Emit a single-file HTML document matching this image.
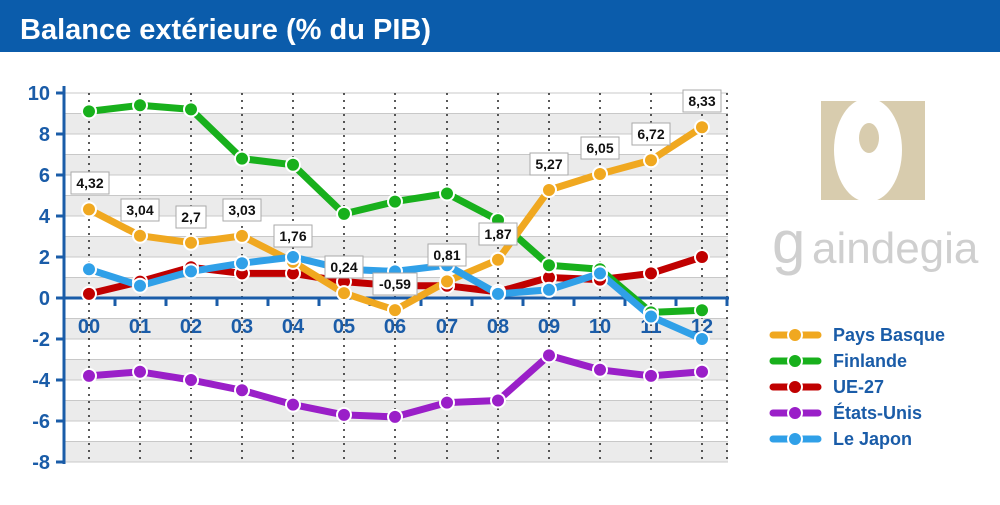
<!DOCTYPE html><html><head><meta charset="utf-8"><style>body{margin:0;width:1000px;height:500px;overflow:hidden;background:#fff;font-family:"Liberation Sans",sans-serif}</style></head><body>
<svg width="1000" height="500" xmlns="http://www.w3.org/2000/svg" font-family="Liberation Sans, sans-serif">
<rect x="0" y="0" width="1000" height="52" fill="#0b5cab"/>
<text x="20" y="39" fill="#fff" font-size="29" font-weight="bold">Balance extérieure (% du PIB)</text>
<g id="bands">
<rect x="64" y="113" width="664" height="20.5" fill="#ebebeb"/>
<rect x="64" y="154" width="664" height="20.5" fill="#ebebeb"/>
<rect x="64" y="195" width="664" height="20.5" fill="#ebebeb"/>
<rect x="64" y="236" width="664" height="20.5" fill="#ebebeb"/>
<rect x="64" y="277" width="664" height="20.5" fill="#ebebeb"/>
<rect x="64" y="318.5" width="664" height="20.5" fill="#ebebeb"/>
<rect x="64" y="359.5" width="664" height="20.5" fill="#ebebeb"/>
<rect x="64" y="400.5" width="664" height="20.5" fill="#ebebeb"/>
<rect x="64" y="441.5" width="664" height="20.5" fill="#ebebeb"/>
</g>
<g stroke="#c8c8c8" stroke-width="1">
<line x1="64" x2="728" y1="93" y2="93"/><line x1="64" x2="728" y1="113.5" y2="113.5"/><line x1="64" x2="728" y1="134" y2="134"/><line x1="64" x2="728" y1="154.5" y2="154.5"/><line x1="64" x2="728" y1="175" y2="175"/><line x1="64" x2="728" y1="195.5" y2="195.5"/><line x1="64" x2="728" y1="216" y2="216"/><line x1="64" x2="728" y1="236.5" y2="236.5"/><line x1="64" x2="728" y1="257" y2="257"/><line x1="64" x2="728" y1="277.5" y2="277.5"/><line x1="64" x2="728" y1="318.5" y2="318.5"/><line x1="64" x2="728" y1="339" y2="339"/><line x1="64" x2="728" y1="359.5" y2="359.5"/><line x1="64" x2="728" y1="380" y2="380"/><line x1="64" x2="728" y1="400.5" y2="400.5"/><line x1="64" x2="728" y1="421" y2="421"/><line x1="64" x2="728" y1="441.5" y2="441.5"/><line x1="64" x2="728" y1="462" y2="462"/>
</g>
<g stroke="#222" stroke-width="1.5" stroke-dasharray="2,5">
<line x1="89" x2="89" y1="93" y2="462"/><line x1="140" x2="140" y1="93" y2="462"/><line x1="191" x2="191" y1="93" y2="462"/><line x1="242" x2="242" y1="93" y2="462"/><line x1="293" x2="293" y1="93" y2="462"/><line x1="344" x2="344" y1="93" y2="462"/><line x1="395" x2="395" y1="93" y2="462"/><line x1="447" x2="447" y1="93" y2="462"/><line x1="498" x2="498" y1="93" y2="462"/><line x1="549" x2="549" y1="93" y2="462"/><line x1="600" x2="600" y1="93" y2="462"/><line x1="651" x2="651" y1="93" y2="462"/><line x1="702" x2="702" y1="93" y2="462"/><line x1="727" x2="727" y1="93" y2="462"/>
</g>
<g stroke="#1a5ca8" stroke-width="3">
<line x1="64" x2="64" y1="86" y2="464"/><line x1="62" x2="729" y1="298" y2="298"/>
<line x1="56" x2="64" y1="93" y2="93"/><line x1="56" x2="64" y1="134" y2="134"/><line x1="56" x2="64" y1="175" y2="175"/><line x1="56" x2="64" y1="216" y2="216"/><line x1="56" x2="64" y1="257" y2="257"/><line x1="56" x2="64" y1="298" y2="298"/><line x1="56" x2="64" y1="339" y2="339"/><line x1="56" x2="64" y1="380" y2="380"/><line x1="56" x2="64" y1="421" y2="421"/><line x1="56" x2="64" y1="462" y2="462"/>
<line x1="115" x2="115" y1="298" y2="306"/><line x1="166" x2="166" y1="298" y2="306"/><line x1="217" x2="217" y1="298" y2="306"/><line x1="268" x2="268" y1="298" y2="306"/><line x1="319" x2="319" y1="298" y2="306"/><line x1="370" x2="370" y1="298" y2="306"/><line x1="421" x2="421" y1="298" y2="306"/><line x1="472" x2="472" y1="298" y2="306"/><line x1="523" x2="523" y1="298" y2="306"/><line x1="574" x2="574" y1="298" y2="306"/><line x1="625" x2="625" y1="298" y2="306"/><line x1="676" x2="676" y1="298" y2="306"/><line x1="727" x2="727" y1="298" y2="306"/>
</g>
<g fill="#1a5ca8" font-size="20" font-weight="bold" text-anchor="end">
<text x="50" y="100">10</text><text x="50" y="141">8</text><text x="50" y="182">6</text><text x="50" y="223">4</text><text x="50" y="264">2</text><text x="50" y="305">0</text><text x="50" y="346">-2</text><text x="50" y="387">-4</text><text x="50" y="428">-6</text><text x="50" y="469">-8</text>
</g>
<g fill="#1a5ca8" font-size="20" font-weight="bold" text-anchor="middle">
<text x="89" y="333">00</text><text x="140" y="333">01</text><text x="191" y="333">02</text><text x="242" y="333">03</text><text x="293" y="333">04</text><text x="344" y="333">05</text><text x="395" y="333">06</text><text x="447" y="333">07</text><text x="498" y="333">08</text><text x="549" y="333">09</text><text x="600" y="333">10</text><text x="651" y="333">11</text><text x="702" y="333">12</text>
</g>
<g fill="none" stroke-width="7" stroke-linejoin="round" stroke-linecap="round">
<polyline stroke="#9a1fc8" points="89,375.9 140,371.8 191,380 242,390.3 293,404.6 344,414.9 395,416.9 447,402.6 498,400.5 549,355.4 600,369.8 651,375.9 702,371.8"/>
<polyline stroke="#c00000" points="89,293.9 140,281.6 191,267.3 242,273.4 293,273.4 344,281.6 395,285.7 447,285.7 498,291.9 549,277.5 600,279.6 651,273.4 702,257"/>
<polyline stroke="#18b01c" points="89,111.4 140,105.3 191,109.4 242,158.6 293,164.8 344,213.9 395,201.6 447,193.5 498,220.1 549,265.2 600,269.3 651,312.4 702,310.3"/>
<polyline stroke="#f0a820" points="89,209.4 140,235.7 191,242.7 242,235.9 293,261.9 344,293.1 395,310.1 447,281.4 498,259.7 549,190 600,174 651,160.2 702,127.2"/>
<polyline stroke="#30a0e8" points="89,269.3 140,285.7 191,271.4 242,263.2 293,257 344,269.3 395,271.4 447,265.2 498,293.9 549,289.8 600,273.4 651,316.5 702,339"/>
</g>
<g stroke="#fff" stroke-width="2">
<g fill="#9a1fc8"><circle cx="89" cy="375.9" r="7"/><circle cx="140" cy="371.8" r="7"/><circle cx="191" cy="380" r="7"/><circle cx="242" cy="390.3" r="7"/><circle cx="293" cy="404.6" r="7"/><circle cx="344" cy="414.9" r="7"/><circle cx="395" cy="416.9" r="7"/><circle cx="447" cy="402.6" r="7"/><circle cx="498" cy="400.5" r="7"/><circle cx="549" cy="355.4" r="7"/><circle cx="600" cy="369.8" r="7"/><circle cx="651" cy="375.9" r="7"/><circle cx="702" cy="371.8" r="7"/></g>
<g fill="#c00000"><circle cx="89" cy="293.9" r="7"/><circle cx="140" cy="281.6" r="7"/><circle cx="191" cy="267.3" r="7"/><circle cx="242" cy="273.4" r="7"/><circle cx="293" cy="273.4" r="7"/><circle cx="344" cy="281.6" r="7"/><circle cx="395" cy="285.7" r="7"/><circle cx="447" cy="285.7" r="7"/><circle cx="498" cy="291.9" r="7"/><circle cx="549" cy="277.5" r="7"/><circle cx="600" cy="279.6" r="7"/><circle cx="651" cy="273.4" r="7"/><circle cx="702" cy="257" r="7"/></g>
<g fill="#18b01c"><circle cx="89" cy="111.4" r="7"/><circle cx="140" cy="105.3" r="7"/><circle cx="191" cy="109.4" r="7"/><circle cx="242" cy="158.6" r="7"/><circle cx="293" cy="164.8" r="7"/><circle cx="344" cy="213.9" r="7"/><circle cx="395" cy="201.6" r="7"/><circle cx="447" cy="193.5" r="7"/><circle cx="498" cy="220.1" r="7"/><circle cx="549" cy="265.2" r="7"/><circle cx="600" cy="269.3" r="7"/><circle cx="651" cy="312.4" r="7"/><circle cx="702" cy="310.3" r="7"/></g>
<g fill="#f0a820"><circle cx="89" cy="209.4" r="7"/><circle cx="140" cy="235.7" r="7"/><circle cx="191" cy="242.7" r="7"/><circle cx="242" cy="235.9" r="7"/><circle cx="293" cy="261.9" r="7"/><circle cx="344" cy="293.1" r="7"/><circle cx="395" cy="310.1" r="7"/><circle cx="447" cy="281.4" r="7"/><circle cx="498" cy="259.7" r="7"/><circle cx="549" cy="190" r="7"/><circle cx="600" cy="174" r="7"/><circle cx="651" cy="160.2" r="7"/><circle cx="702" cy="127.2" r="7"/></g>
<g fill="#30a0e8"><circle cx="89" cy="269.3" r="7"/><circle cx="140" cy="285.7" r="7"/><circle cx="191" cy="271.4" r="7"/><circle cx="242" cy="263.2" r="7"/><circle cx="293" cy="257" r="7"/><circle cx="344" cy="269.3" r="7"/><circle cx="395" cy="271.4" r="7"/><circle cx="447" cy="265.2" r="7"/><circle cx="498" cy="293.9" r="7"/><circle cx="549" cy="289.8" r="7"/><circle cx="600" cy="273.4" r="7"/><circle cx="651" cy="316.5" r="7"/><circle cx="702" cy="339" r="7"/></g>
</g>
<g font-size="14" font-weight="bold" text-anchor="middle" fill="#111">
<g fill="#fff" stroke="#aaa" stroke-width="1">
<rect x="71" y="172" width="38" height="22"/><rect x="121" y="199" width="38" height="22"/><rect x="176" y="206" width="30" height="22"/><rect x="223" y="199" width="38" height="22"/><rect x="274" y="225" width="38" height="22"/><rect x="325" y="256" width="38" height="22"/><rect x="373" y="273" width="44" height="22"/><rect x="428" y="244" width="38" height="22"/><rect x="479" y="223" width="38" height="22"/><rect x="530" y="153" width="38" height="22"/><rect x="581" y="137" width="38" height="22"/><rect x="632" y="123" width="38" height="22"/><rect x="683" y="90" width="38" height="22"/>
</g>
<text x="90" y="188">4,32</text><text x="140" y="215">3,04</text><text x="191" y="222">2,7</text><text x="242" y="215">3,03</text><text x="293" y="241">1,76</text><text x="344" y="272">0,24</text><text x="395" y="289">-0,59</text><text x="447" y="260">0,81</text><text x="498" y="239">1,87</text><text x="549" y="169">5,27</text><text x="600" y="153">6,05</text><text x="651" y="139">6,72</text><text x="702" y="106">8,33</text>
</g>
<rect x="821" y="101" width="104" height="99" fill="#d8ccae"/>
<ellipse cx="868" cy="150" rx="34" ry="52" fill="#fff"/>
<ellipse cx="869" cy="138" rx="10" ry="15" fill="#d8ccae"/>
<text x="772" y="263" font-size="60" fill="#cfcfcf">g</text>
<text x="812" y="263" font-size="44" fill="#cfcfcf">aindegia</text>
<g stroke-width="7" stroke-linecap="round">
<line x1="773" x2="818" y1="335" y2="335" stroke="#f0a820"/><line x1="773" x2="818" y1="361" y2="361" stroke="#18b01c"/><line x1="773" x2="818" y1="387" y2="387" stroke="#c00000"/><line x1="773" x2="818" y1="413" y2="413" stroke="#9a1fc8"/><line x1="773" x2="818" y1="439" y2="439" stroke="#30a0e8"/>
</g>
<g stroke="#fff" stroke-width="2">
<circle cx="795" cy="335" r="7" fill="#f0a820"/><circle cx="795" cy="361" r="7" fill="#18b01c"/><circle cx="795" cy="387" r="7" fill="#c00000"/><circle cx="795" cy="413" r="7" fill="#9a1fc8"/><circle cx="795" cy="439" r="7" fill="#30a0e8"/>
</g>
<g fill="#1a5ca8" font-size="18" font-weight="bold">
<text x="833" y="341">Pays Basque</text><text x="833" y="367">Finlande</text><text x="833" y="393">UE-27</text><text x="833" y="419">États-Unis</text><text x="833" y="445">Le Japon</text>
</g>
</svg>
</body></html>
